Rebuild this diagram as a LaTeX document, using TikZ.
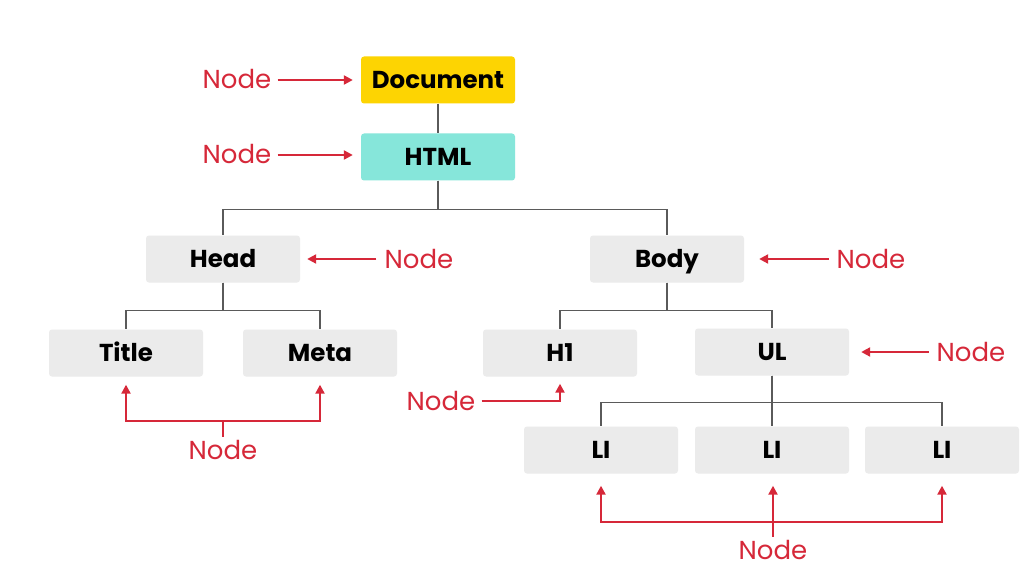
\documentclass[tikz,border=0pt]{standalone}
\usepackage{fontspec}
\setmainfont{Poppins}
\usetikzlibrary{arrows.meta}
\definecolor{docyellow}{HTML}{FDD402}
\definecolor{htmlteal}{HTML}{86E6DA}
\definecolor{boxgrey}{HTML}{EBEBEB}
\definecolor{noderred}{HTML}{D62839}
\definecolor{treeline}{HTML}{5A5A5A}
\tikzset{
  box/.style={rounded corners=3pt, minimum width=154pt, minimum height=47pt,
    inner sep=0pt, text height=17pt, text depth=0pt,
    font=\fontsize{24.5}{24.5}\selectfont\bfseries, text=black},
  greybox/.style={box, fill=boxgrey},
  tag/.style={text=noderred, font=\fontsize{26}{26}\selectfont, inner sep=0pt,
    text height=18pt, text depth=0pt},
  tree/.style={draw=treeline, line width=1.3pt},
  pointer/.style={draw=noderred, line width=2.2pt, -{Triangle[length=9pt,width=9pt]}},
  redline/.style={draw=noderred, line width=2.2pt},
}
\begin{document}
\begin{tikzpicture}[x=1pt, y=-1pt]
\useasboundingbox[fill=white] (0,0) rectangle (1026,567);

% document tree
\node[box, fill=docyellow] (doc)  at (438,80)  {Document};
\node[box, fill=htmlteal]  (html) at (438,157) {HTML};
\node[greybox] (head)  at (223,259) {Head};
\node[greybox] (body)  at (667,259) {Body};
\node[greybox] (title) at (126,353) {Title};
\node[greybox] (meta)  at (320,353) {Meta};
\node[greybox] (h1)    at (560,353) {H1};
\node[greybox] (ul)    at (772,352) {UL};
\node[greybox] (lia)   at (601,450) {LI};
\node[greybox] (lib)   at (772,450) {LI};
\node[greybox] (lic)   at (942,450) {LI};

\draw[tree] (doc.south) -- (html.north);
\draw[tree] (html.south) -- ++(0,29) -| (head.north);
\draw[tree] (html.south) -- ++(0,29) -| (body.north);
\draw[tree] (head.south) -- ++(0,28) -| (title.north);
\draw[tree] (head.south) -- ++(0,28) -| (meta.north);
\draw[tree] (body.south) -- ++(0,28) -| (h1.north);
\draw[tree] (body.south) -- ++(0,28) -| (ul.north);
\draw[tree] (ul.south) -- ++(0,27) -| (lia.north);
\draw[tree] (ul.south) -- (lib.north);
\draw[tree] (ul.south) -- ++(0,27) -| (lic.north);

% "Node" annotations
\node[tag] (tdoc)  at (237,80)  {Node};
\node[tag] (thtml) at (237,155) {Node};
\node[tag] (thead) at (419,259) {Node};
\node[tag] (tbody) at (871,259) {Node};
\node[tag] (tul)   at (971,352) {Node};
\node[tag] (th1)   at (441,401) {Node};
\node[tag] (ttm)   at (223,450) {Node};
\node[tag] (tli)   at (773,550) {Node};

\draw[pointer, shorten <=6pt, shorten >=8pt] (tdoc.east)  -- (doc.west |- tdoc.east);
\draw[pointer, shorten <=6pt, shorten >=8pt] (thtml.east) -- (html.west |- thtml.east);
\draw[pointer, shorten <=8pt, shorten >=7pt] (thead.west) -- (head.east |- thead.west);
\draw[pointer, shorten <=8pt, shorten >=15pt] (tbody.west) -- (body.east |- tbody.west);
\draw[pointer, shorten <=8pt, shorten >=12pt] (tul.west)  -- (ul.east |- tul.west);
\draw[pointer, shorten <=6pt, shorten >=7pt] (th1.east) -| (h1.south);

\coordinate (tmj) at (223,421);
\draw[redline, shorten <=4pt] (ttm.north) -- (tmj);
\draw[pointer, shorten >=8pt] (tmj) -| (title.south);
\draw[pointer, shorten >=8pt] (tmj) -| (meta.south);

\coordinate (lij) at (773,522);
\draw[pointer, shorten <=4pt, shorten >=12pt] (tli.north) -- (lib.south -| tli.north);
\draw[pointer, shorten >=12pt] (lij) -| (lia.south);
\draw[pointer, shorten >=12pt] (lij) -| (lic.south);
\end{tikzpicture}
\end{document}
